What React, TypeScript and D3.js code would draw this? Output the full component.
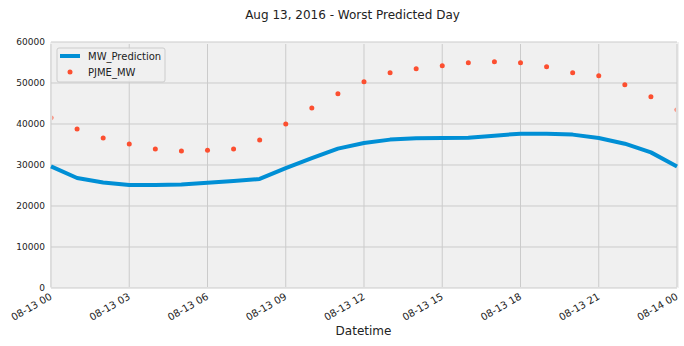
import React from "react";
import * as d3 from "d3";

const hours = d3.range(0, 25);
const prediction = [29660, 26820, 25750, 25100, 25100, 25260, 25670, 26080, 26600, 29260, 31700, 33990, 35370, 36190, 36510, 36600, 36650, 37160, 37650, 37650, 37410, 36600, 35200, 33080, 29660];
const actual = [41500, 38800, 36600, 35130, 33900, 33420, 33570, 33900, 36100, 40020, 43930, 47350, 50290, 52490, 53470, 54200, 54930, 55180, 54930, 53960, 52490, 51760, 49560, 46630, 43450];
const xTicks = [0, 3, 6, 9, 12, 15, 18, 21, 24];
const xTickLabels = ["08-13 00", "08-13 03", "08-13 06", "08-13 09", "08-13 12", "08-13 15", "08-13 18", "08-13 21", "08-14 00"];
const yTicks = [0, 10000, 20000, 30000, 40000, 50000, 60000];

const W = 684, H = 346;
const L = 51, R = 677, T = 42, B = 288;
const FONT = "DejaVu Sans, sans-serif";

export default function App() {
  const x = d3.scaleLinear().domain([0, 24]).range([L, R]);
  const y = d3.scaleLinear().domain([0, 60000]).range([B, T]);
  const line = d3.line<number>().x((_, i) => x(hours[i])).y(d => y(d));
  return (
    <svg width={W} height={H} style={{ position: "absolute", left: 0, top: 0 }} fontFamily={FONT}>
      <rect width={W} height={H} fill="#fff" />
      <defs>
        <clipPath id="clipLine"><rect x={L - 1} y={T} width={R - L + 2} height={B - T} /></clipPath>
        <clipPath id="clipPts"><rect x={L + 1.5} y={T} width={R - L - 3} height={B - T} /></clipPath>
      </defs>
      <rect x={L - 1} y={T} width={R - L + 3} height={B - T} fill="#f0f0f0" />
      {yTicks.map(t => (
        <line key={"gy" + t} x1={L} x2={R} y1={y(t)} y2={y(t)} stroke="#cbcbcb" strokeWidth={1} />
      ))}
      {xTicks.map(t => (
        <line key={"gx" + t} x1={x(t)} x2={x(t)} y1={T + 2} y2={B - 1} stroke="#cbcbcb" strokeWidth={1} />
      ))}
      <g clipPath="url(#clipLine)">
        <path d={line(prediction) || ""} fill="none" stroke="#008fd5" strokeWidth={4} strokeLinejoin="round" />
      </g>
      <g clipPath="url(#clipPts)">
        {actual.map((v, i) => (
          <circle key={"p" + i} cx={x(hours[i])} cy={y(v)} r={2.5} fill="#fc4f30" />
        ))}
      </g>
      {yTicks.map(t => (
        <text key={"ty" + t} x={45} y={y(t)} dy="0.35em" textAnchor="end" fontSize={9} fill="#222">{t}</text>
      ))}
      {xTicks.map((t, i) => (
        <text key={"tx" + t} transform={`translate(${x(t) - 2},${292}) rotate(-30)`} dy="0.75em" textAnchor="end" fontSize={10} fill="#222">{xTickLabels[i]}</text>
      ))}
      <text x={363.5} y={335} textAnchor="middle" fontSize={12} fill="#222">Datetime</text>
      <text x={352.5} y={18.5} textAnchor="middle" fontSize={12} fill="#222">Aug 13, 2016 - Worst Predicted Day</text>
      <g>
        <rect x={57} y={48} width={108} height={34} rx={2} fill="#f0f0f0" fillOpacity={0.8} stroke="#cccccc" strokeWidth={1} />
        <line x1={60} x2={80} y1={56} y2={56} stroke="#008fd5" strokeWidth={4} />
        <text x={88} y={56} dy="0.35em" fontSize={10} fill="#222">MW_Prediction</text>
        <circle cx={70} cy={72} r={2.5} fill="#fc4f30" />
        <text x={88} y={72} dy="0.35em" fontSize={10} fill="#222">PJME_MW</text>
      </g>
    </svg>
  );
}
